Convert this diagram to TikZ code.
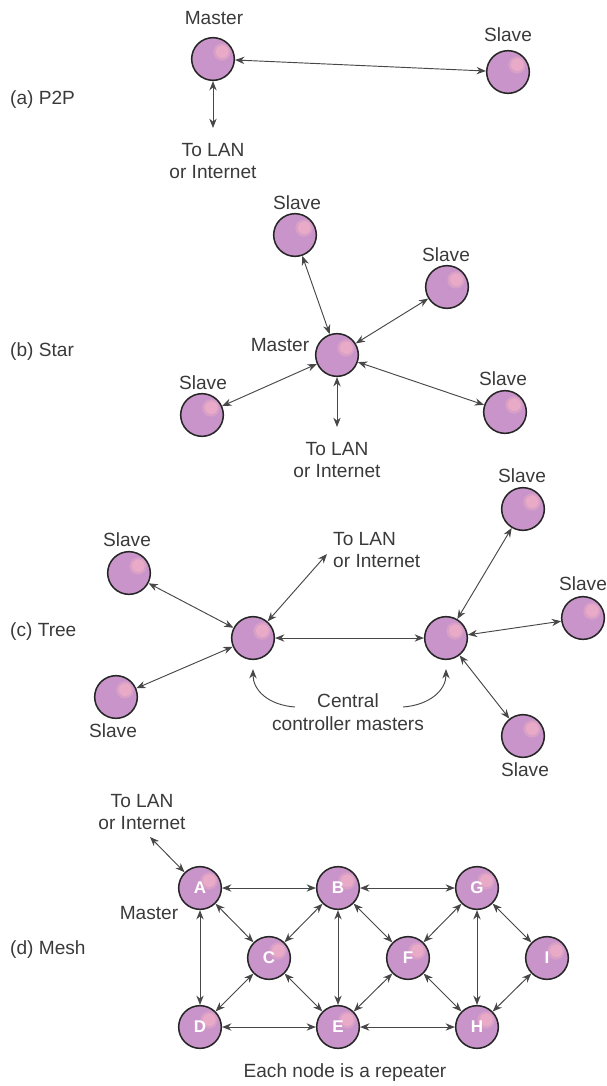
\documentclass[tikz,border=0pt]{standalone}
\usepackage{fontspec}
\setmainfont{Liberation Sans}
\usetikzlibrary{arrows.meta}
\definecolor{ballfill}{RGB}{201,148,201}
\definecolor{ballhi}{RGB}{232,170,198}
\definecolor{balledge}{RGB}{38,38,38}
\definecolor{inkgray}{RGB}{58,58,58}
\tikzset{
    %Define standard arrow tip
    >={Stealth[length=2.8mm,width=2.2mm]},
    % Define arrow style
    pil/.style={
           <->,
           color=black!72,
           line width=0.8pt,}
}
\newcommand{\ballsize}{1.28cm}

\begin{document}
\begin{tikzpicture}[x=0.03cm, y=-0.03cm, font=\fontsize{16.3}{19.5}\selectfont, text=inkgray]
\tikzstyle{ball}=[circle, draw=balledge, line width=1.3pt, fill=ballfill, minimum size=\ballsize,
    inner sep=0pt, text=white, font=\fontsize{14.5}{16}\selectfont\bfseries,
    path picture={\fill[ballhi, opacity=0.5] ([xshift=2.7mm,yshift=2.1mm]path picture bounding box.center) circle (2.6mm);
                  \fill[ballhi] ([xshift=2.8mm,yshift=2.2mm]path picture bounding box.center) circle (1.9mm);}]
%
\tikzstyle{lbl}=[inner sep=0pt, align=center]

\useasboundingbox (0,0) rectangle (606,1086);

% (a) point to point
\node[lbl, anchor=west] (capa) at (10,100) {(a) P2P};
\node[ball] (pm) at (213,59) {};
\node[ball] (ps) at (508,72) {};
\node[lbl] (pmlbl) at (214,18) {Master};
\node[lbl] (pslbl) at (508,35) {Slave};
\coordinate (plan) at (213,128);
\node[lbl] (plantxt) at (213,161) {To LAN\\ or Internet};
\draw[pil] (pm) -- (ps);
\draw[pil] (pm) -- (plan);

% (b) star
\node[lbl, anchor=west] (capb) at (10,352) {(b) Star};
\node[ball] (sm) at (337,355) {};
\node[ball] (s1) at (295,235) {};
\node[ball] (s2) at (447,287) {};
\node[ball] (s3) at (202,415) {};
\node[ball] (s4) at (505,412) {};
\node[lbl] (smlbl) at (280,345) {Master};
\node[lbl] (s1lbl) at (297,203) {Slave};
\node[lbl] (s2lbl) at (446,255) {Slave};
\node[lbl] (s3lbl) at (203,383) {Slave};
\node[lbl] (s4lbl) at (503,379) {Slave};
\coordinate (slan) at (337,427);
\node[lbl] (slantxt) at (337,460) {To LAN\\ or Internet};
\draw[pil] (sm) -- (s1);
\draw[pil] (sm) -- (s2);
\draw[pil] (sm) -- (s3);
\draw[pil] (sm) -- (s4);
\draw[pil] (sm) -- (slan);

% (c) tree
\node[lbl, anchor=west] (capc) at (10,632) {(c) Tree};
\node[ball] (tl) at (253,638) {};
\node[ball] (tr) at (446,638) {};
\node[ball] (ta) at (129,573) {};
\node[ball] (tb) at (116,697) {};
\node[ball] (tc) at (523,509) {};
\node[ball] (td) at (583,618) {};
\node[ball] (te) at (523,736) {};
\node[lbl] (talbl) at (127,540) {Slave};
\node[lbl] (tblbl) at (113,731) {Slave};
\node[lbl] (tclbl) at (522,476) {Slave};
\node[lbl] (tdlbl) at (583,584) {Slave};
\node[lbl] (telbl) at (525,770) {Slave};
\coordinate (tlan) at (327,554);
\node[lbl, anchor=west, align=left] (tlantxt) at (333,550) {To LAN\\ or Internet};
\node[lbl] (central) at (348,712) {Central\\ controller masters};
\draw[pil] (tl) -- (tr);
\draw[pil] (tl) -- (ta);
\draw[pil] (tl) -- (tb);
\draw[pil] (tl) -- (tlan);
\draw[pil] (tr) -- (tc);
\draw[pil] (tr) -- (td);
\draw[pil] (tr) -- (te);
\coordinate (cleft) at (295,707);
\coordinate (cright) at (403,707);
\draw[pil, ->, shorten >=0.27cm] (cleft) .. controls (268,705) and (253,690) .. (tl.south);
\draw[pil, ->, shorten >=0.27cm] (cright) .. controls (430,705) and (446,690) .. (tr.south);

% (d) mesh
\node[lbl, anchor=west] (capd) at (10,950) {(d) Mesh};
\node[ball] (A) at (200,888) {A};
\node[ball] (B) at (338,888) {B};
\node[ball] (G) at (477,888) {G};
\node[ball] (C) at (269,958) {C};
\node[ball] (F) at (408,958) {F};
\node[ball] (I) at (547,958) {I};
\node[ball] (D) at (200,1027) {D};
\node[ball] (E) at (338,1027) {E};
\node[ball] (H) at (477,1027) {H};
\coordinate (mlan) at (150,837);
\node[lbl] (mlantxt) at (142,812) {To LAN\\ or Internet};
\node[lbl] (mlbl) at (149,913) {Master};
\node[lbl] (repeat) at (345,1073) {Each node is a repeater};
\draw[pil] (A) -- (mlan);
\foreach \a/\b in {A/B, B/G, A/C, A/D, B/C, B/E, B/F, G/F, G/H, G/I,
                   C/D, C/E, F/E, F/H, I/H, D/E, E/H}
    \draw[pil] (\a) -- (\b);

\end{tikzpicture}
\end{document}
